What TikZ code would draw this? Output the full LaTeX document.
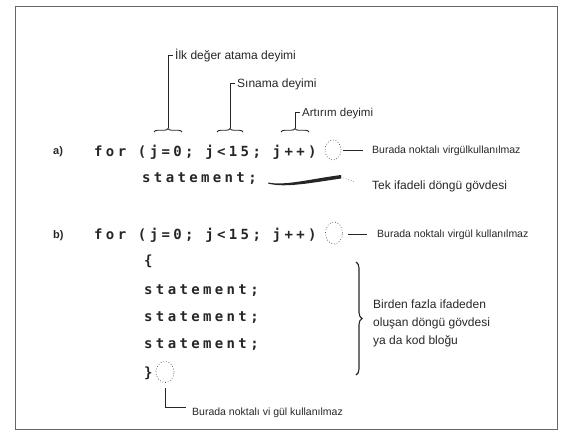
\documentclass[tikz,border=0pt]{standalone}
\usepackage{fontspec}
\setmainfont{Liberation Sans}
\newfontfamily\codefont{DejaVu Sans Mono}[LetterSpace=24]
\usetikzlibrary{decorations.pathreplacing,shapes.geometric}

\begin{document}
\begin{tikzpicture}[x=1pt,y=-1pt,
  every node/.style={inner sep=0pt,anchor=base west,text=black!85},
  code/.style={font=\codefont\bfseries\fontsize{14}{14}\selectfont},
  lbl/.style={font=\fontsize{12}{12}\selectfont},
  note/.style={font=\fontsize{10.5}{10.5}\selectfont},
  tag/.style={font=\bfseries\fontsize{11}{11}\selectfont},
  hole/.style={draw=black!70,dotted,line width=0.7pt,ellipse,anchor=center},
  lead/.style={draw=black!85,line width=0.9pt},
  ubrace/.style={draw=black!85,line width=0.9pt,decorate,decoration={brace,amplitude=3.5pt}},
]
\useasboundingbox (0,0) rectangle (561,434);
\draw[black!60,line width=0.7pt] (15,6) rectangle (557,429);

% ---- a) single-statement loop ----
\node[tag]  (ta)  at (53,154) {a)};
\node[code] (fa)  at (94,156) {for (j=0; j<15; j++)};
\node[code] (sa)  at (142,182) {statement;};
\node[hole,minimum width=16pt,minimum height=20pt] (ha) at (333,150) {};
\node[note] (na)  at (372,153.5) {Burada noktalı virgülkullanılmaz};
\coordinate (da1) at (343,150);
\coordinate (da2) at (363,150);
\draw[lead] (da1) -- (da2);

% header labels with leaders and braces
\node[lbl] (l1) at (175,59) {İlk değer atama deyimi};
\node[lbl] (l2) at (237,87) {Sınama deyimi};
\node[lbl,font=\fontsize{11.5}{11.5}\selectfont] (l3) at (302,116) {Artırım deyimi};
\coordinate (c1) at (168,55);  \coordinate (t1) at (168,128);
\coordinate (c2) at (230,83);  \coordinate (t2) at (230,128);
\coordinate (c3) at (295,112); \coordinate (t3) at (295,128);
\draw[lead] (t1) -- (c1) -- ++(5,0);
\draw[lead] (t2) -- (c2) -- ++(5,0);
\draw[lead] (t3) -- (c3) -- ++(5,0);
\draw[ubrace] (154,132) -- (182,132);
\draw[ubrace] (217,132) -- (243,132);
\draw[ubrace] (281,132) -- (309,132);

% tapered stroke pointing at the single body
\fill[black!85] (268,183.5) .. controls (285,188) and (310,183) .. (341,178.5)
  -- (341,175) .. controls (310,179) and (285,186) .. (268,182.5) -- cycle;
\node[lbl] (nt) at (372,189) {Tek ifadeli döngü gövdesi};
\draw[black!60,dotted,line width=0.6pt] (341,177) -- (354,181.5);

% ---- b) block loop ----
\node[tag]  (tb)  at (53,238) {b)};
\node[code] (fb)  at (94,239) {for (j=0; j<15; j++)};
\node[hole,minimum width=17pt,minimum height=22pt] (hb) at (334,233) {};
\node[note] (nb)  at (377,237.5) {Burada noktalı virgül kullanılmaz};
\coordinate (db1) at (348,234);
\coordinate (db2) at (367,234);
\draw[lead] (db1) -- (db2);

\node[code] (ob)  at (144,265) {\{};
\node[code] (s1)  at (144,294) {statement;};
\node[code] (s2)  at (144,321) {statement;};
\node[code] (s3)  at (144,348) {statement;};
\node[code] (cb)  at (144,377) {\}};
\node[hole,minimum width=18pt,minimum height=21pt] (hc) at (165,372) {};

\draw[draw=black!85,line width=1.1pt,decorate,decoration={brace,amplitude=6pt}]
  (356,262) -- (356,375);
\node[lbl] (m1) at (373,308) {Birden fazla ifadeden};
\node[lbl] (m2) at (373,326) {oluşan döngü gövdesi};
\node[lbl] (m3) at (373,344) {ya da kod bloğu};

\coordinate (e1) at (165,388);
\coordinate (e2) at (165,407);
\coordinate (e3) at (186,407);
\draw[lead] (e1) -- (e2) -- (e3);
\node[note] (nc) at (192,415) {Burada noktalı vi gül kullanılmaz};
\end{tikzpicture}
\end{document}
